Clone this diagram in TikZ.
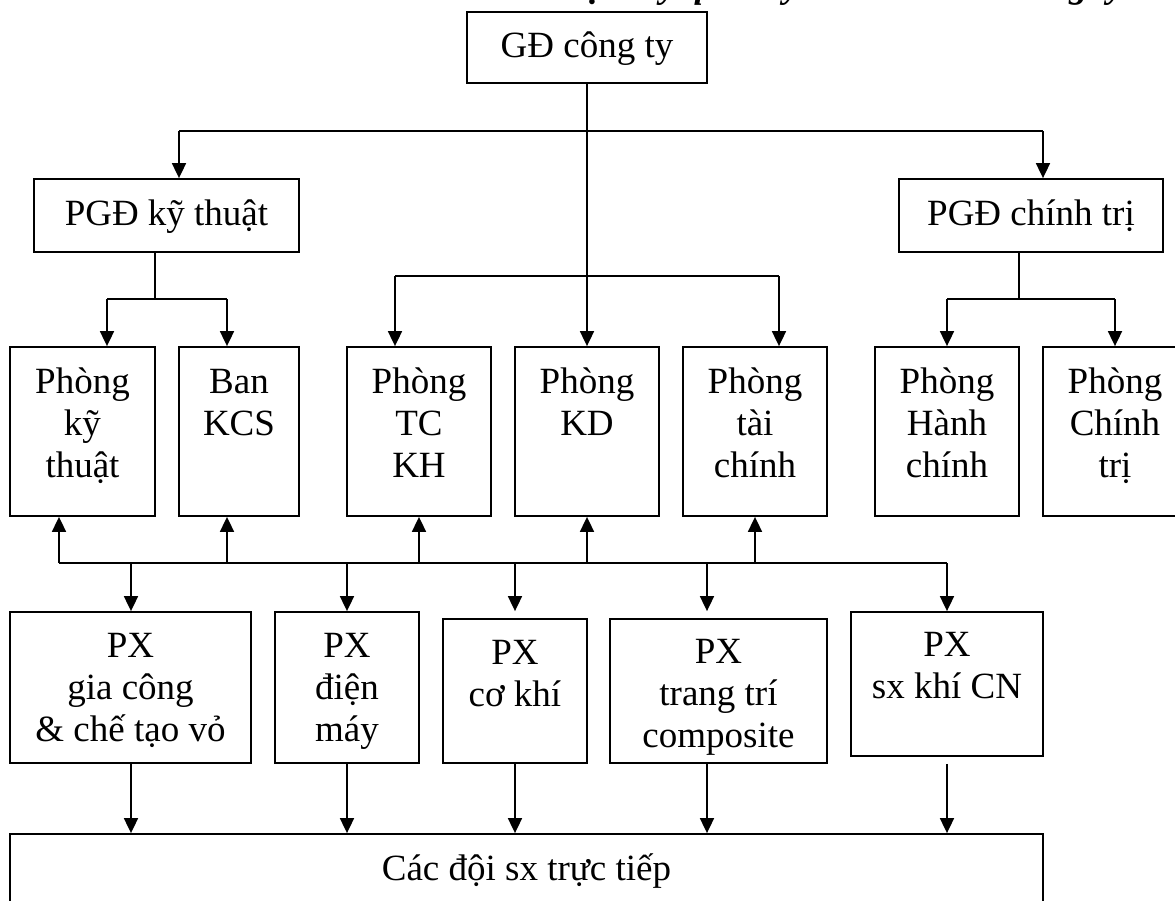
\documentclass[tikz,border=0pt]{standalone}
\usepackage{fontspec}
\setmainfont{Liberation Serif}
\usetikzlibrary{arrows.meta}
\newcommand\bxt[4]{\parbox[c][#2][t]{#1}{\centering\rule{0pt}{#3}#4}}
\begin{document}
\begin{tikzpicture}[x=0.5pt,y=-0.5pt,
  box/.style={draw, line width=0.9pt, inner sep=0pt, rectangle},
  arr/.style={line width=0.9pt, -{Triangle[length=7.5pt,width=7pt]}},
  ln/.style={line width=0.9pt},
  font=\fontsize{18.5}{21}\selectfont]
\useasboundingbox (0,0) rectangle (1175,901);
\fill[white] (0,0) rectangle (1175,901);
\clip (0,0) rectangle (1175,901);

\node[anchor=base east, font=\fontsize{18.5}{21}\selectfont\bfseries\itshape] (title) at (1131,-3) {Sơ đồ tổ chức bộ máy quản lý sản xuất của công ty};

% top
\node[box] (gd) at (587,47.5) {\bxt{120pt}{35.5pt}{22.5pt}{GĐ công ty}};
\node[box] (pkt) at (166.5,215.5) {\bxt{132.5pt}{36.5pt}{23pt}{PGĐ kỹ thuật}};
\node[box] (pct) at (1031,215.5) {\bxt{132pt}{36.5pt}{23pt}{PGĐ chính trị}};

% row 2
\node[box] (r1) at (82.5,431.5) {\bxt{72.5pt}{84.5pt}{23pt}{Phòng\\kỹ\\thuật}};
\node[box] (kcs) at (239,431.5) {\bxt{60pt}{84.5pt}{23pt}{Ban\\KCS}};
\node[box] (tckh) at (419,431.5) {\bxt{72pt}{84.5pt}{23pt}{Phòng\\TC\\KH}};
\node[box] (kd) at (587,431.5) {\bxt{72pt}{84.5pt}{23pt}{Phòng\\KD}};
\node[box] (tc) at (755,431.5) {\bxt{72pt}{84.5pt}{23pt}{Phòng\\tài\\chính}};
\node[box] (hc) at (947,431.5) {\bxt{72pt}{84.5pt}{23pt}{Phòng\\Hành\\chính}};
\node[box] (ct) at (1115,431.5) {\bxt{72pt}{84.5pt}{23pt}{Phòng\\Chính\\trị}};

% row 3
\node[box] (gc) at (130.5,687.5) {\bxt{120.5pt}{75.5pt}{22.5pt}{PX\\gia công\\\& chế tạo vỏ}};
\node[box] (dm) at (347,687.5) {\bxt{72pt}{75.5pt}{22.5pt}{PX\\điện\\máy}};
\node[box] (ck) at (515,691) {\bxt{72pt}{72pt}{22.5pt}{PX\\cơ khí}};
\node[box] (tt) at (718.5,691) {\bxt{108.5pt}{72pt}{22pt}{PX\\trang trí\\composite}};
\node[box] (sx) at (947,684) {\bxt{96pt}{72pt}{22pt}{PX\\sx khí CN}};

% bottom
\node[box] (doi) at (526.5,892) {\bxt{516.5pt}{58pt}{23pt}{Các đội sx trực tiếp}};

% connectors from GD
\draw[arr] (gd.south) -- (kd.north);
\coordinate (j1l) at (179,131);
\coordinate (j1r) at (1043,131);
\draw[ln] (j1l) -- (j1r);
\draw[arr] (j1l) -- (j1l |- pkt.north);
\draw[arr] (j1r) -- (j1r |- pct.north);

\coordinate (j3l) at (395,276);
\coordinate (j3r) at (779,276);
\draw[ln] (j3l) -- (j3r);
\draw[arr] (j3l) -- (j3l |- tckh.north);
\draw[arr] (j3r) -- (j3r |- tc.north);

% PGD ky thuat
\coordinate (j2) at (155,299);
\coordinate (j2l) at (107,299);
\coordinate (j2r) at (227,299);
\draw[ln] (j2 |- pkt.south) -- (j2);
\draw[ln] (j2l) -- (j2r);
\draw[arr] (j2l) -- (j2l |- r1.north);
\draw[arr] (j2r) -- (j2r |- kcs.north);

% PGD chinh tri
\coordinate (j4) at (1019,299);
\coordinate (j4l) at (947,299);
\coordinate (j4r) at (1115,299);
\draw[ln] (j4 |- pct.south) -- (j4);
\draw[ln] (j4l) -- (j4r);
\draw[arr] (j4l) -- (hc.north);
\draw[arr] (j4r) -- (ct.north);

% bus
\coordinate (u1) at (59,563);
\coordinate (u2) at (227,563);
\coordinate (u3) at (419,563);
\coordinate (u4) at (587,563);
\coordinate (u5) at (755,563);
\coordinate (d1) at (131,563);
\coordinate (d2) at (347,563);
\coordinate (d3) at (515,563);
\coordinate (d4) at (707,563);
\coordinate (d5) at (947,563);
\draw[ln] (u1) -- (d5);
\draw[arr] (u1) -- (u1 |- r1.south);
\draw[arr] (u2) -- (u2 |- kcs.south);
\draw[arr] (u3) -- (u3 |- tckh.south);
\draw[arr] (u4) -- (u4 |- kd.south);
\draw[arr] (u5) -- (u5 |- tc.south);
\draw[arr] (d1) -- (d1 |- gc.north);
\draw[arr] (d2) -- (d2 |- dm.north);
\draw[arr] (d3) -- (d3 |- gc.north);
\draw[arr] (d4) -- (d4 |- gc.north);
\draw[arr] (d5) -- (d5 |- gc.north);

% to bottom
\draw[arr] (d1 |- gc.south) -- (d1 |- doi.north);
\draw[arr] (d2 |- dm.south) -- (d2 |- doi.north);
\draw[arr] (d3 |- ck.south) -- (d3 |- doi.north);
\draw[arr] (d4 |- tt.south) -- (d4 |- doi.north);
\draw[arr] (d5 |- gc.south) -- (d5 |- doi.north);
\end{tikzpicture}
\end{document}
